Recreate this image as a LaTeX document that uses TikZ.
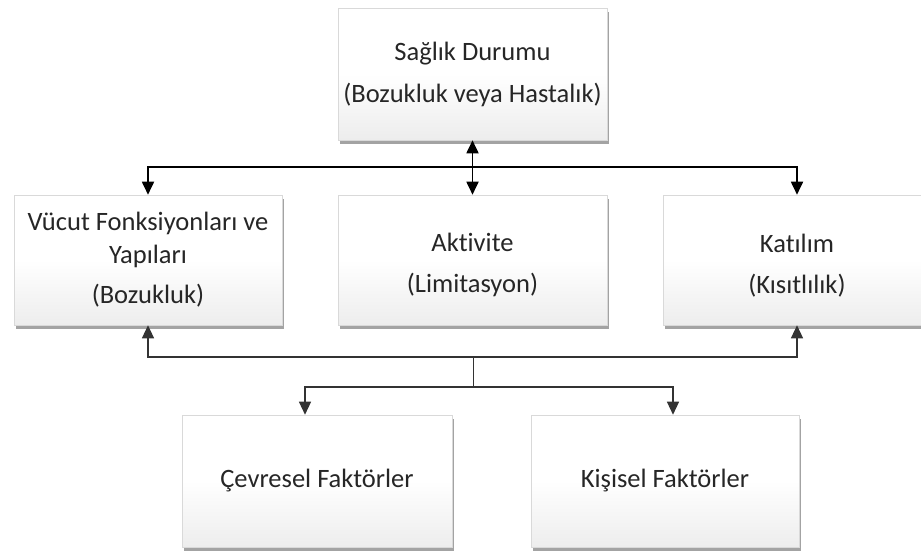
\documentclass[tikz,border=0pt]{standalone}
\usepackage{fontspec}
\setmainfont[Ligatures={NoCommon}]{Carlito}
\usetikzlibrary{arrows.meta,shadows}
\pgfdeclareverticalshading{boxshade}{100bp}{color(0bp)=(black!13); color(15bp)=(black!10); color(50bp)=(white); color(100bp)=(white)}
\begin{document}
\begin{tikzpicture}[x=1pt,y=-1pt,
  box/.style={draw=black!15, line width=0.6pt, shading=boxshade,
    drop shadow={shadow xshift=2pt, shadow yshift=-3.5pt, opacity=0.6, fill=black!60},
    align=center, text=black!85, font=\fontsize{26.5}{33}\selectfont, inner sep=0pt},
  tip/.tip={Triangle[width=12pt,length=13pt]},
  upline/.style={line width=1.8pt, black},
  lowline/.style={line width=1.3pt, black!80}]
\clip (0,0) rectangle (921,552);
\node[box, minimum width=269pt, minimum height=132pt] (sd) at (472.5,74)
  {Sağlık Durumu\\[9pt](Bozukluk veya Hastalık)};
\node[box, minimum width=268pt, minimum height=130pt] (vb) at (148,260)
  {Vücut Fonksiyonları ve\\Yapıları\\[7pt](Bozukluk)};
\node[box, minimum width=269pt, minimum height=130pt] (ak) at (472.5,260)
  {\\[-4pt]Aktivite\\[8pt](Limitasyon)};
\node[box, minimum width=268pt, minimum height=130pt] (kt) at (797,260)
  {\\[-4pt]Katılım\\[8pt](Kısıtlılık)};
\node[box, minimum width=270pt, minimum height=132pt] (cf) at (317,481)
  {Çevresel Faktörler};
\node[box, minimum width=268pt, minimum height=132pt] (kf) at (665,481)
  {Kişisel Faktörler};
\coordinate (hy) at (0,167);
\coordinate (ly) at (0,357);
\coordinate (j1) at (473,357);
\coordinate (j2) at (473,387);
\draw[upline, {tip}-{tip}] (sd.south) -- (ak.north);
\draw[upline, {tip}-{tip}] (vb.north) -- (vb.north |- hy) -- (kt.north |- hy) -- (kt.north);
\draw[lowline, {tip}-{tip}] (vb.south) -- (vb.south |- ly) -- (kt.south |- ly) -- (kt.south);
\draw[lowline, line width=1pt] (j1) -- (j2);
\draw[lowline, {tip}-{tip}] ([xshift=-12pt]cf.north) -- ([xshift=-12pt]cf.north |- j2) -- ([xshift=8pt]kf.north |- j2) -- ([xshift=8pt]kf.north);
\end{tikzpicture}
\end{document}
